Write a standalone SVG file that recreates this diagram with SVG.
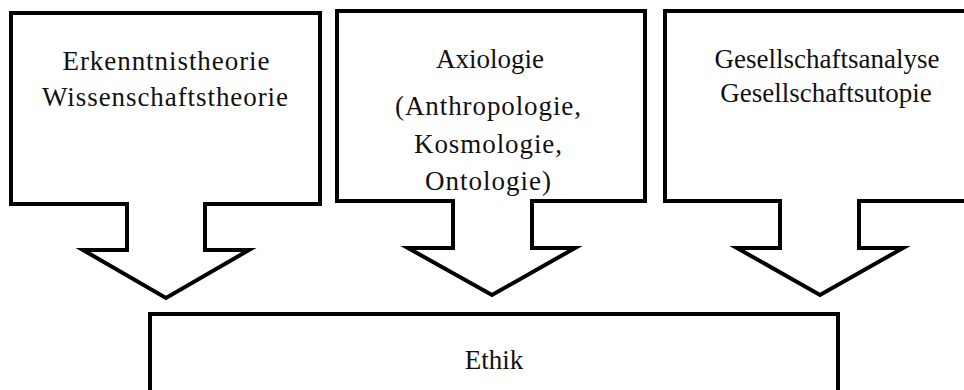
<svg xmlns="http://www.w3.org/2000/svg" width="964" height="390" viewBox="0 0 964 390">
<style>
.shape{fill:none;stroke:#000;stroke-width:4;stroke-linejoin:miter;stroke-linecap:square}
.t{font-family:"Liberation Serif","Times New Roman",serif;font-size:27px;fill:#111;text-anchor:middle}
</style>
<rect width="964" height="390" fill="#fff"/>
<g id="node-erkenntnistheorie">
<path class="shape" d="M127,204 H11 V13 H320 V204 H205"/>
<text class="t" x="166" y="70" textLength="207" lengthAdjust="spacing">Erkenntnistheorie</text>
<text class="t" x="165" y="106" textLength="246" lengthAdjust="spacing">Wissenschaftstheorie</text>
</g>
<g id="node-axiologie">
<path class="shape" d="M453,201 H337 V11 H645 V201 H532"/>
<text class="t" x="490" y="68">Axiologie</text>
<text class="t" x="488" y="115" textLength="186" lengthAdjust="spacing">(Anthropologie,</text>
<text class="t" x="488" y="153" textLength="148" lengthAdjust="spacing">Kosmologie,</text>
<text class="t" x="488" y="190" textLength="126" lengthAdjust="spacing">Ontologie)</text>
</g>
<g id="node-gesellschaft">
<path class="shape" d="M780,201 H665 V11 H990 V201 H859"/>
<text class="t" x="827" y="68">Gesellschaftsanalyse</text>
<text class="t" x="826" y="102">Gesellschaftsutopie</text>
</g>
<g id="node-ethik">
<path class="shape" d="M150,400 V314 H838 V400"/>
<text class="t" x="494" y="369">Ethik</text>
</g>
<g id="connectors">
<path class="shape" d="M127,204 V250 H83 L166,298 L249,250 H205 V204"/>
<path class="shape" d="M453,201 V248 H408 L492,295 L575,248 H532 V201"/>
<path class="shape" d="M780,201 V248 H737 L820,295 L903,248 H859 V201"/>
</g>
</svg>
